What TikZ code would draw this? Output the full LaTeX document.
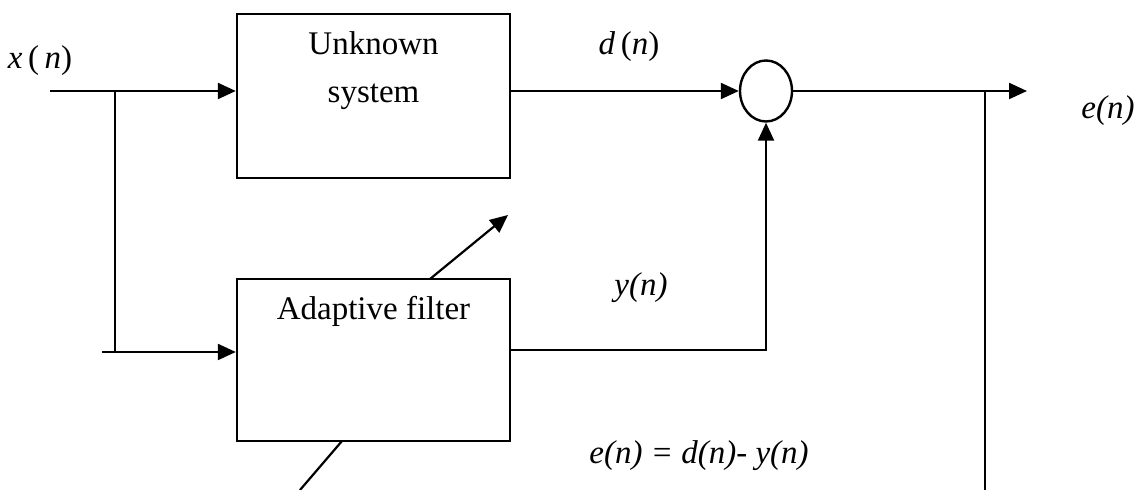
\documentclass[tikz,border=0pt]{standalone}
\usepackage{fontspec}
\setmainfont{Liberation Serif}
\usetikzlibrary{arrows.meta,shapes.geometric}

\begin{document}
\begin{tikzpicture}[x=0.5pt,y=-0.5pt,
    block/.style={draw, line width=1.2pt, minimum width=136.5pt, minimum height=82pt},
    sig/.style={line width=1.1pt},
    arr/.style={sig, -{Triangle[length=9pt,width=8pt]}},
    font=\fontsize{16.5}{24}\selectfont]
                \useasboundingbox (0,0) rectangle (1144,490);

                % Nodes
                \node[block] (unk) at (373.5,96) {};
                \node[block, minimum height=81pt] (adf) at (373.5,360) {};
                \node[ellipse, draw, line width=1.2pt, minimum width=26pt, minimum height=30.5pt, inner sep=0pt] (sum) at (766,91) {};
                \node[align=center] (unktxt) at (373.5,71) {Unknown\\system};
                \node (adftxt) at (373.5,311) {Adaptive filter};
                \node (xlab) at (40,61) {\textit{x}\,(\,\textit{n})};
                \node (dlab) at (629,47) {\textit{d}\,(\textit{n})};
                \node (ylab) at (641,288) {\textit{y(n)}};
                \node (elab) at (1108,111) {\textit{e(n)}};
                \node (eqlab) at (699,456) {\textit{e(n) = d(n)- y(n)}};

                % Coordinates
                \coordinate (in) at (50,91);
                \coordinate (j1) at (115,91);
                \coordinate (j2) at (115,352);
                \coordinate (in2) at (102,352);
                \coordinate (yc) at (766,350);
                \coordinate (tap) at (985,91);
                \coordinate (tapend) at (985,490);
                \coordinate (out) at (1027,91);
                \coordinate (mu1) at (300,490);
                \coordinate (mu2) at (342,441);
                \coordinate (mu3) at (430,279);
                \coordinate (mu4) at (508,215);

                % Edges
                \draw[arr] (in) -- (in -| unk.west);
                \draw[sig] (j1) -- (j2);
                \draw[arr] (in2) -- (in2 -| adf.west);
                \draw[arr] (unk.east |- sum) -- (sum.west);
                \draw[arr] (yc -| adf.east) -- (yc) -- (sum.south);
                \draw[arr] (sum.east) -- (out);
                \draw[sig] (tap) -- (tapend);
                \draw[sig] (mu1) -- (mu2);
                \draw[arr] (mu3) -- (mu4);
            \end{tikzpicture}
\end{document}
